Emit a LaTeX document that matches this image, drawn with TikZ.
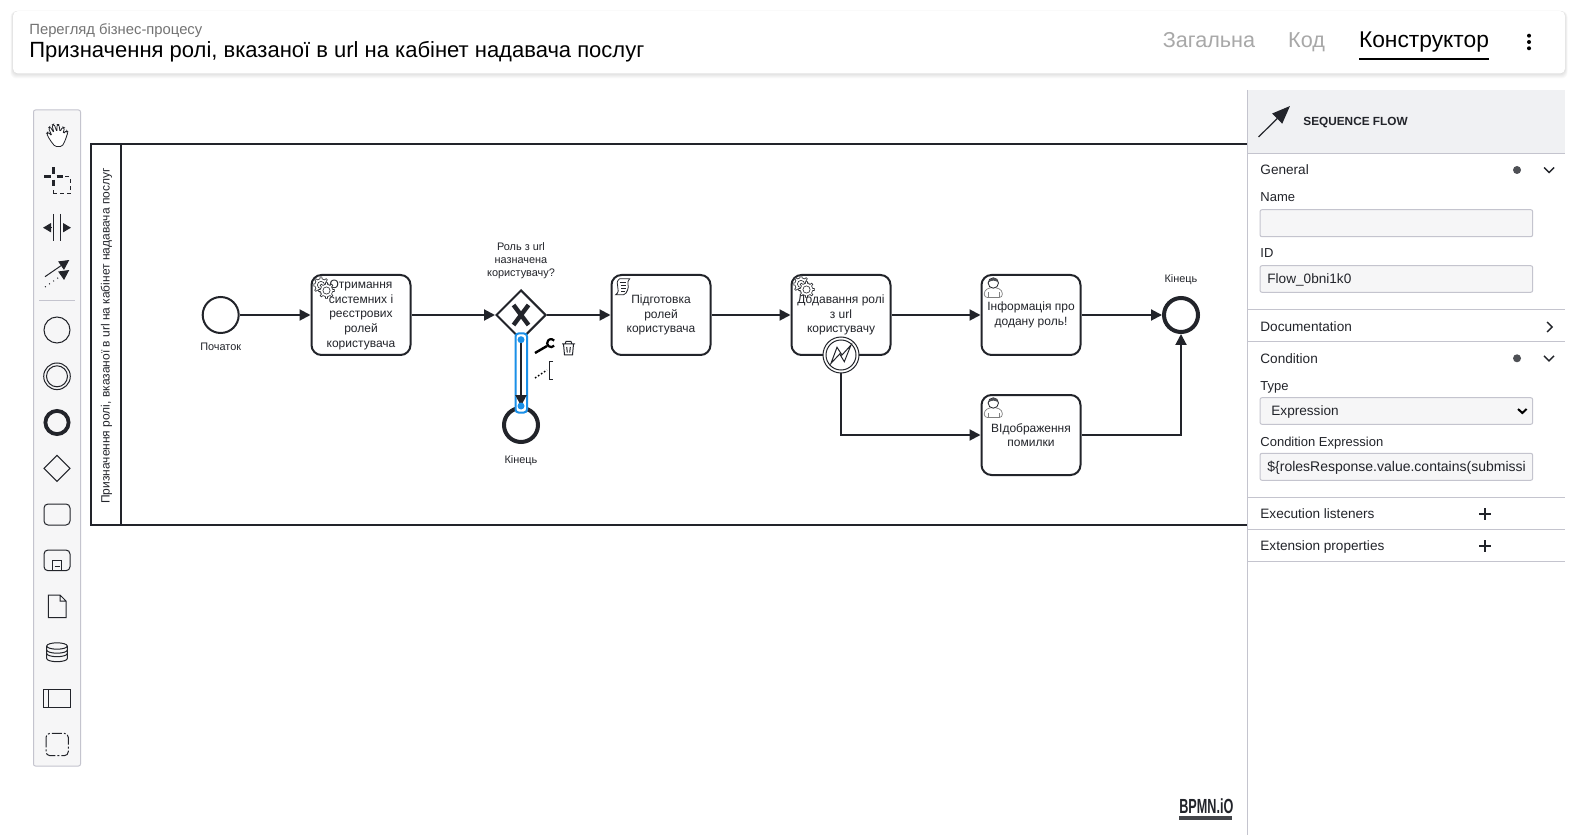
\documentclass[tikz,border=0pt]{standalone}
\usepackage{fontspec}
\setmainfont{Liberation Sans}
\usetikzlibrary{arrows.meta,shapes.geometric}
\definecolor{ink}{HTML}{22242A}
\definecolor{hairline}{HTML}{C4C4CE}
\definecolor{softfill}{HTML}{F6F6F7}
\definecolor{headfill}{HTML}{F0F1F3}
\definecolor{selblue}{HTML}{1A90E8}
\definecolor{tabgray}{HTML}{A8A8A8}
\tikzset{
    tasknode/.style={draw=ink,line width=1pt,fill=white,rounded corners=5pt,minimum width=49.5pt,minimum height=40pt,inner sep=0pt,align=center,text=ink,font=\fontsize{6}{7.3}\selectfont},
    startnode/.style={circle,draw=ink,line width=1pt,fill=white,minimum size=18pt,inner sep=0pt},
    endnode/.style={circle,draw=ink,line width=2pt,fill=white,minimum size=17pt,inner sep=0pt},
    gatenode/.style={diamond,draw=ink,line width=1pt,fill=white,minimum size=25pt,inner sep=0pt},
    edgenode/.style={circle,draw=ink,line width=.5pt,fill=white,minimum size=18pt,inner sep=0pt},
    smalllabel/.style={text=ink,inner sep=0pt,align=center,yshift=-.5pt,font=\fontsize{5.45}{6.5}\selectfont},
    flowline/.style={draw=ink,line width=1pt,-{Triangle[length=5.5pt,width=5.5pt]}},
    toolline/.style={draw=ink,line width=.5pt},
    panellabel/.style={anchor=west,text=ink,inner sep=0pt,text height=4.8pt,text depth=1.4pt,yshift=-.75pt,font=\fontsize{6.8}{8}\selectfont},
    panelbox/.style={draw=hairline,line width=.5pt,fill=softfill,rounded corners=1pt},
    panelrule/.style={draw=hairline,line width=.5pt},
    tablabel/.style={text=tabgray,inner sep=0pt,text height=7pt,text depth=2pt,yshift=-1.5pt,font=\fontsize{10.8}{12}\selectfont},
    gearicon/.pic={
        \foreach \c in {(0,0),(5.5,5.5)}{
            \draw[draw=ink,line width=.3pt,fill=white,shift={\c}] (-10:6.2)
                \foreach \a in {0,45,...,315}{ -- (\a-10:6.2) -- (\a-6:8.2) -- (\a+6:8.2) -- (\a+10:6.2) } -- cycle;
            \draw[draw=ink,line width=.3pt,fill=white,shift={\c}] (0,0) circle (3.6);
        }
    },
    usericon/.pic={
        \draw[draw=gray,line width=.35pt,fill=white,rounded corners=1.5pt] (-9,20) -- (-9,13) -- (-3,10) -- (3,10) -- (9,13) -- (9,20) -- cycle;
        \draw[draw=gray,line width=.3pt] (-5.5,20) -- (-5.5,15) (5.5,20) -- (5.5,15);
        \draw[draw=ink,line width=.4pt,fill=white] (0,5.5) circle (5.2);
        \fill[ink!80] (-5,5) .. controls (-5,-1) and (5,-1) .. (5,5) .. controls (2,2.5) and (-2,2.5) .. (-5,5) -- cycle;
    },
    scripticon/.pic={
        \draw[draw=ink,line width=.4pt,fill=white] (-3,-8) -- (7,-8) .. controls (3,-4) and (7,-1) .. (5,3) .. controls (4,6) and (3,7) .. (1,8) -- (-7,8) .. controls (-4,6) and (-4,3) .. (-5,0) .. controls (-6,-3) and (-6,-6) .. (-3,-8) -- cycle;
        \draw[draw=ink,line width=.3pt] (-3,-4.5) -- (3.5,-4.5) (-2,-1.5) -- (3,-1.5) (-1.5,1.5) -- (3,1.5) (-1.5,4.5) -- (2,4.5);
    }
}
\begin{document}
\begin{tikzpicture}[x=.5pt,y=-.5pt]
    \useasboundingbox (0,0) rectangle (1578,839);
    \fill[white] (0,0) rectangle (1578,839);

    \foreach \s in {1,...,5}{
        \fill[black,opacity=.025,rounded corners=3pt] (13-\s/2,11) rectangle (1565+\s/2,73.5+\s);
    }
    \fill[white,rounded corners=2.5pt] (13,11) rectangle (1565,73.5);
    \node[anchor=west,inner sep=0pt,text=black!55,font=\fontsize{7.4}{8}\selectfont] (subtitle) at (29,31) {Перегляд бізнес-процесу};
    \node[anchor=west,inner sep=0pt,text=black,font=\fontsize{11}{13}\selectfont] (title) at (29,52) {Призначення ролі, вказаної в url на кабінет надавача послуг};
    \node[tablabel] (tabgeneral) at (1209,40) {Загальна};
    \node[tablabel] (tabcode) at (1306.5,40) {Код};
    \node[tablabel,text=black,font=\fontsize{11.4}{13}\selectfont] (tabbuilder) at (1424,40) {Конструктор};
    \fill[black] (1359,58) rectangle (1489,60);
    \foreach \y in {35.7,42,48.3}{
        \fill[black] (1529,\y) circle (2);
    }

    \draw[draw=hairline,line width=.5pt,fill=softfill,rounded corners=1pt] (33.5,110) rectangle (80.5,766);
    \draw[draw=ink,line width=.4pt,rounded corners=.8pt,fill=white] (55,146.5) -- (50,140) -- (46.5,133.5) -- (48,132) -- (52,136) -- (48.5,128) -- (50,126.5) -- (54,133) -- (52,125) -- (54,124) -- (57,132) -- (57,124.5) -- (59,124.5) -- (60,132) -- (62.5,127) -- (64.5,127.5) -- (63,134) -- (66.5,130.5) -- (68,132) -- (65,141) -- (62,146.5) -- cycle;
    \draw[draw=ink,line width=1.4pt] (44,176.7) -- (50.5,176.7) (56.5,176.7) -- (63,176.7) (53.5,167.5) -- (53.5,173.7) (53.5,179.7) -- (53.5,186);
    \draw[toolline,dashed,dash pattern=on 2pt off 1.5pt] (53,194) -- (70,194) -- (70,177) -- (60,177) (53,194) -- (53,187);
    \draw[toolline] (53.3,214) -- (53.3,240.7) (60.7,214) -- (60.7,240.7);
    \draw[draw=ink,line width=.7pt,-{Triangle[length=4pt,width=4.5pt]}] (51,227.7) -- (43,227.7);
    \draw[draw=ink,line width=.7pt,-{Triangle[length=4pt,width=4.5pt]}] (63,227.7) -- (71,227.7);
    \draw[draw=ink,line width=.5pt,-{Triangle[length=5pt,width=5pt]}] (45,276.7) -- (69.3,260);
    \draw[draw=ink,line width=.5pt,dotted,-{Triangle[length=5pt,width=5pt]}] (45,287) -- (69.3,270);
    \draw[panelrule] (39,300.3) -- (75,300.3);
    \draw[toolline] (57,330) circle (13);
    \draw[toolline] (57,376.3) circle (13.3) (57,376.3) circle (10.5);
    \draw[draw=ink,line width=1.9pt] (57,422.5) circle (11.6);
    \draw[toolline] (57,455.3) -- (70,468.3) -- (57,481.3) -- (44,468.3) -- cycle;
    \draw[toolline,rounded corners=2pt] (44,504) rectangle (70,525);
    \draw[toolline,rounded corners=2pt] (44,550) rectangle (70,570.7);
    \draw[toolline] (52.3,570.7) -- (52.3,560.7) -- (61.7,560.7) -- (61.7,570.7) (54.5,566) -- (59.5,566);
    \draw[toolline] (48.3,595) -- (60,595) -- (66,601) -- (66,617.7) -- (48.3,617.7) -- cycle (60,595) -- (60,601) -- (66,601);
    \draw[toolline] (46.7,646) -- (46.7,658.5) arc[start angle=180,end angle=0,x radius=10.3,y radius=3.2] -- (67.3,646);
    \draw[toolline] (57,646) ellipse (10.3 and 3.2);
    \draw[toolline] (46.7,650) arc[start angle=180,end angle=0,x radius=10.3,y radius=3.2] (46.7,653.5) arc[start angle=180,end angle=0,x radius=10.3,y radius=3.2];
    \draw[toolline] (43.3,689.3) rectangle (70.7,707.7) (48.3,689.3) -- (48.3,707.7);
    \draw[toolline,rounded corners=2pt,dash pattern=on 5pt off 1pt on 1pt off 1pt] (46,733.3) rectangle (68.3,755.7);

    \draw[draw=ink,line width=1pt] (1250,144.5) -- (91,144.5) -- (91,525) -- (1250,525) (121.3,144.5) -- (121.3,525);
    \node[rotate=90,text=ink,inner sep=0pt,font=\fontsize{6}{7}\selectfont] (lanetitle) at (106.5,336) {Призначення ролі, вказаної в url на кабінет надавача послуг};

    \node[startnode] (start) at (220.7,315) {};
    \node[tasknode] (taskroles) at (361,315) {Отримання\\системних і\\реєстрових\\ролей\\користувача};
    \node[gatenode] (gate) at (521,315) {};
    \node[endnode] (endreject) at (521,425) {};
    \node[tasknode] (taskprepare) at (661,315) {Підготовка\\ролей\\користувача};
    \node[tasknode] (taskadd) at (841,315) {Додавання ролі\\з url\\користувачу};
    \node[tasknode] (taskinfo) at (1031,315) {Інформація про\\додану роль!};
    \node[tasknode] (taskerror) at (1031,435) {ВІдображення\\помилки};
    \node[endnode] (endok) at (1181,315) {};
    \node[edgenode] (catch) at (841,355) {};
    \draw[draw=ink,line width=.5pt] (catch) circle (15);
    \draw[draw=ink,line width=.5pt,fill=white,shift={(841,355)}] (-10,8.3) -- (-4,-7.7) -- (1,0) -- (10,-10) -- (3.3,6.7) -- (-1.3,-1) -- cycle;
    \draw[draw=ink,line width=2.2pt] (513.5,305) -- (528.5,325) (528.5,305) -- (513.5,325);

    \node[smalllabel] (startlabel) at (220.7,346) {Початок};
    \node[smalllabel] (gatelabel) at (521,259.5) {Роль з url\\назначена\\користувачу?};
    \node[smalllabel] (endrejectlabel) at (521,459.3) {Кінець};
    \node[smalllabel] (endoklabel) at (1181,279) {Кінець};

    \draw[flowline] (start) -- (taskroles);
    \draw[flowline] (taskroles) -- (gate);
    \draw[flowline] (gate) -- (taskprepare);
    \draw[flowline] (taskprepare) -- (taskadd);
    \draw[flowline] (taskadd) -- (taskinfo);
    \draw[flowline] (taskinfo) -- (endok);
    \draw[flowline] (catch.south) |- (taskerror.west);
    \draw[flowline] (taskerror.east) -| (endok.south);

    \draw[draw=selblue,line width=1pt,fill=white,rounded corners=1.5pt] (515.5,333.5) rectangle (527,412.5);
    \draw[flowline] (gate) -- (endreject);
    \fill[selblue] (521,339.7) circle (3.5) (521,406) circle (3.5);

    \pic at (321,285) {gearicon};
    \pic at (801,284) {gearicon};
    \pic at (622.7,286.7) {scripticon};
    \pic at (993.3,277.5) {usericon};
    \pic at (993.3,397.5) {usericon};

    \draw[draw=black,line width=1.2pt] (535,353) -- (547,346);
    \draw[draw=black,line width=1.1pt] (554.2,345.7) arc[start angle=40,end angle=320,radius=4];
    \draw[draw=ink,line width=.5pt] (562,344) -- (575,344) (565,344) -- (566,341.5) -- (571,341.5) -- (572,344) (563.5,344) -- (564.5,355) -- (572.5,355) -- (573.5,344) (566.7,347) -- (567.3,352.5) (570.3,347) -- (569.7,352.5);
    \draw[draw=black,line width=.7pt,dash pattern=on .8pt off 1pt] (535,378) -- (547,370);
    \draw[draw=ink,line width=.5pt] (553,361.7) -- (549,361.7) -- (549,379.3) -- (553,379.3);

    \node[anchor=west,transform shape,xscale=.62,inner sep=0pt,text=ink,font=\fontsize{10.2}{12}\bfseries\selectfont] (bpmnmark) at (1179,806.5) {BPMN.iO};
    \fill[ink!85] (1179,816) rectangle (1232,820);

    \fill[white] (1247,90) rectangle (1566,839);
    \fill[headfill] (1247,90) rectangle (1565,153.3);
    \draw[panelrule] (1247.3,90) -- (1247.3,835);
    \draw[draw=ink,line width=.6pt,-{Triangle[length=9pt,width=7pt]}] (1258.5,137) -- (1290,106);
    \node[panellabel,font=\fontsize{5.9}{7}\bfseries\selectfont] (paneltitle) at (1303,120.7) {SEQUENCE FLOW};
    \foreach \y in {153.3,309.3,341.3,497.3,529.3,561.3}{
        \draw[panelrule] (1247.3,\y) -- (1565,\y);
    }
    \node[panellabel] (general) at (1260,170) {General};
    \node[panellabel,font=\fontsize{6.5}{8}\selectfont] (namelabel) at (1260,197) {Name};
    \draw[panelbox] (1260,209.7) rectangle (1532.7,236.7);
    \node[panellabel,font=\fontsize{6.5}{8}\selectfont] (idlabel) at (1260,253) {ID};
    \draw[panelbox] (1260,265.7) rectangle (1532.7,292.3);
    \node[panellabel] (idvalue) at (1267,279) {Flow\_0bni1k0};
    \node[panellabel] (documentation) at (1260,326.7) {Documentation};
    \node[panellabel] (condition) at (1260,358.3) {Condition};
    \node[panellabel,font=\fontsize{6.5}{8}\selectfont] (typelabel) at (1260,386) {Type};
    \draw[panelbox] (1260,397.7) rectangle (1532.7,424.3);
    \node[panellabel] (typevalue) at (1271,411) {Expression};
    \node[panellabel,font=\fontsize{6.5}{8}\selectfont] (exprlabel) at (1260,441.7) {Condition Expression};
    \draw[panelbox] (1260,453.3) rectangle (1532.7,480.3);
    \node[panellabel,font=\fontsize{7}{8}\selectfont] (exprvalue) at (1267,467) {\$\{rolesResponse.value.contains(submissi};
    \node[panellabel] (listeners) at (1260,514) {Execution listeners};
    \node[panellabel] (properties) at (1260,546) {Extension properties};
    \fill[ink!80] (1517,170) circle (4) (1517,358.3) circle (4);
    \draw[draw=ink,line width=.7pt] (1544,167.5) -- (1549,172.5) -- (1554,167.5) (1544,355.8) -- (1549,360.8) -- (1554,355.8);
    \draw[draw=ink,line width=.7pt] (1547,322) -- (1552,327) -- (1547,332);
    \draw[draw=black,line width=1pt] (1518,409) -- (1522.3,413) -- (1526.6,409);
    \draw[draw=ink,line width=.6pt] (1479,514) -- (1491,514) (1485,508) -- (1485,520) (1479,546) -- (1491,546) (1485,540) -- (1485,552);
\end{tikzpicture}
\end{document}
